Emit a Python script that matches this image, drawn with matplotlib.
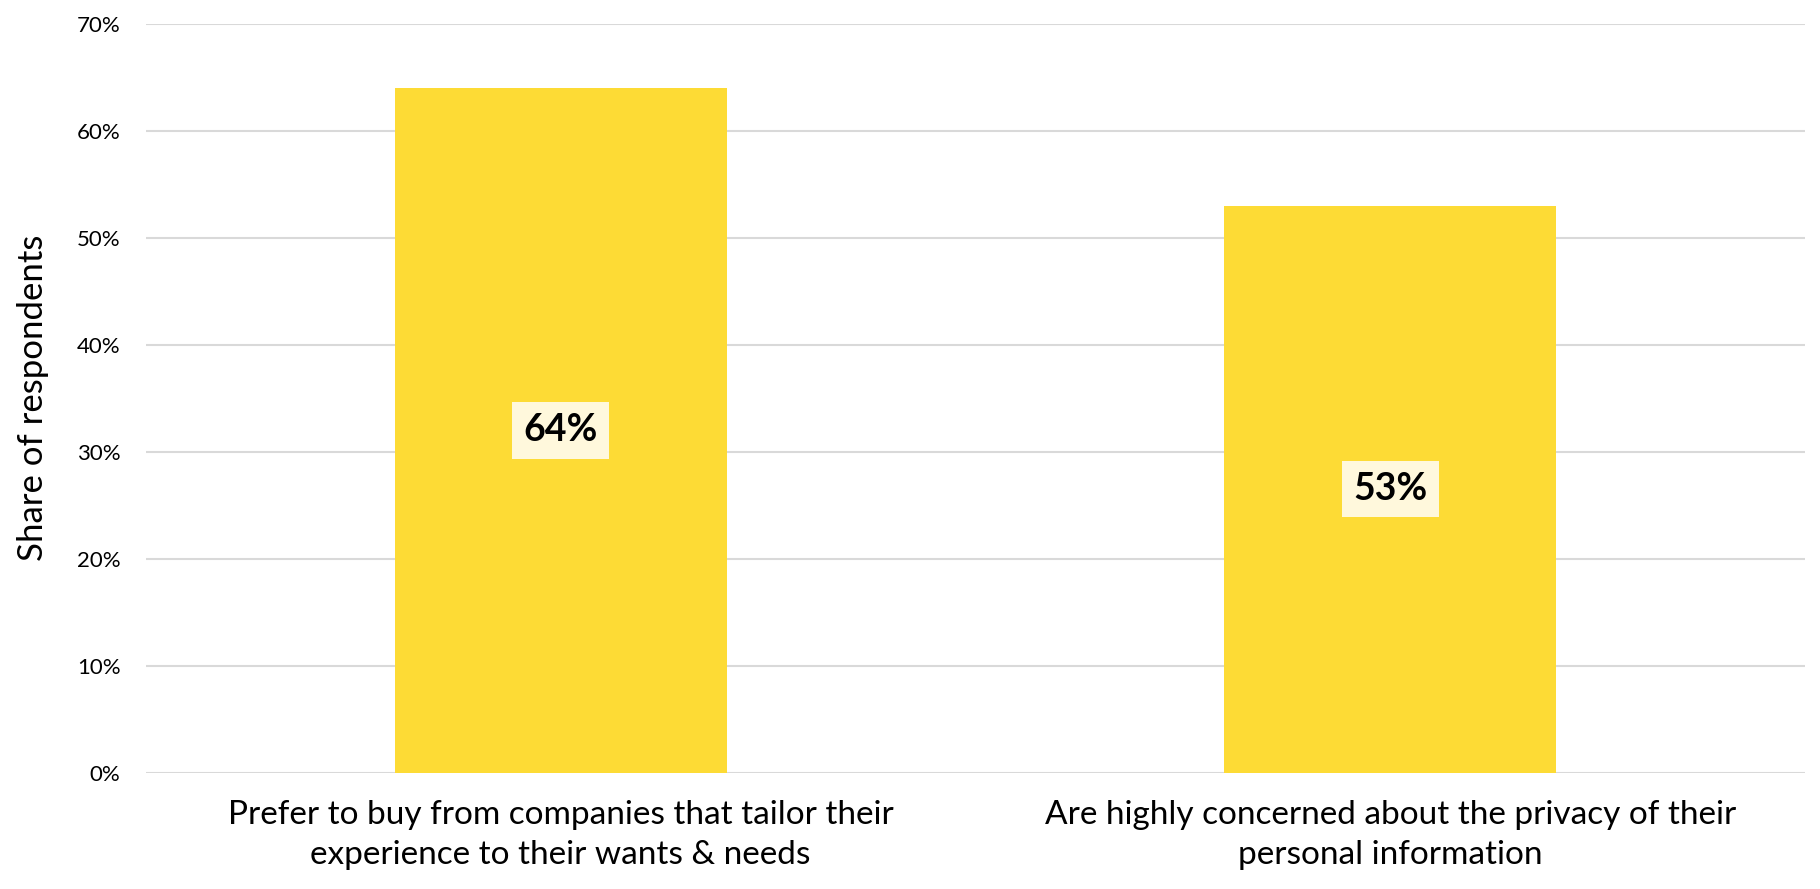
import matplotlib
matplotlib.use("Agg")
import matplotlib.pyplot as plt
from matplotlib.ticker import FuncFormatter

categories = ["Prefer to buy from companies that tailor their\nexperience to their wants & needs",
              "Are highly concerned about the privacy of their\npersonal information"]
values = [64, 53]
yticks = [0, 10, 20, 30, 40, 50, 60, 70]

plt.rcParams['font.family'] = ['Lato', 'DejaVu Sans']

fig = plt.figure(figsize=(18.2, 8.89), dpi=100)
ax = fig.add_axes([0.080, 0.131, 0.912, 0.842])

x = range(len(categories))
bars = ax.bar(x, values, width=0.4, color='#FDDB35', zorder=2)

for b, v in zip(bars, values):
    ax.text(b.get_x() + b.get_width() / 2, v / 2, f"{v}%", ha='center', va='center',
            fontsize=27, fontweight='bold', color='black', zorder=3,
            bbox=dict(boxstyle='square,pad=0.3', fc='#FFF8DC', ec='none'))

ax.set_xlim(-0.5, 1.5)
ax.set_ylim(0, 70)
ax.set_yticks(yticks)
ax.yaxis.set_major_formatter(FuncFormatter(lambda v, p: f"{int(v)}%"))
ax.set_xticks(list(x))
ax.set_xticklabels(categories, fontsize=24, linespacing=1.4)
ax.tick_params(axis='y', labelsize=16, length=0, pad=18)
ax.tick_params(axis='x', length=0, pad=20)
ax.grid(axis='y', color='#D9D9D9', linewidth=1.5, zorder=0)
for s in ax.spines.values():
    s.set_visible(False)
ax.set_ylabel("Share of respondents", fontsize=25, labelpad=20)

fig.savefig("out.png", dpi=100)
